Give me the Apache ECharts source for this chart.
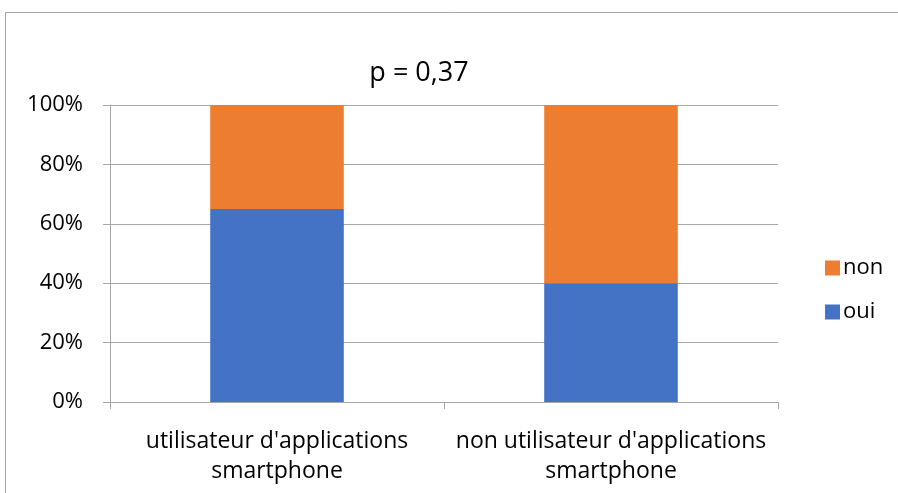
<!DOCTYPE html>
<html>
<head>
<meta charset="utf-8">
<script src="https://cdn.jsdelivr.net/npm/echarts@6/dist/echarts.min.js"></script>
<style>
html, body { margin: 0; padding: 0; background: #fff; }
#chart { width: 898px; height: 493px; }
</style>
</head>
<body>
<div id="chart"></div>
<script>
const categories = ["utilisateur d'applications\nsmartphone", "non utilisateur d'applications\nsmartphone"];
const ouiValues = [65, 40];
const nonValues = [35, 60];
const yTicks = [0, 20, 40, 60, 80, 100];

const font = '"Open Sans", "Liberation Sans", sans-serif';
const chart = echarts.init(document.getElementById('chart'));
chart.setOption({
	animation: false,
	title: {
		text: 'p = 0,37',
		left: 414,
		top: 55,
		textAlign: 'center',
		textStyle: { fontFamily: font, fontSize: 27, fontWeight: 'normal', color: '#000' }
	},
	graphic: [{
		type: 'rect',
		shape: { x: 5.5, y: 12.5, width: 1000, height: 1000 },
		style: { fill: 'none', stroke: '#a6a6a6', lineWidth: 1 },
		silent: true
	}],
	legend: {
		orient: 'vertical',
		left: 820,
		top: 252,
		itemGap: 22,
		itemWidth: 15,
		itemHeight: 15,
		icon: 'rect',
		data: ['non', 'oui'],
		textStyle: { fontFamily: font, fontSize: 22, color: '#000', padding: [0, 0, 0, -2] }
	},
	grid: { left: 110, right: 120, top: 105, bottom: 91 },
	xAxis: {
		type: 'category',
		data: categories,
		axisLine: { lineStyle: { color: '#a6a6a6' } },
		axisTick: { show: true, length: 7, lineStyle: { color: '#a6a6a6' } },
		axisLabel: { interval: 0, hideOverlap: false, fontFamily: font, fontSize: 23, color: '#000', margin: 24, lineHeight: 30 }
	},
	yAxis: {
		type: 'value',
		min: yTicks[0],
		max: yTicks[yTicks.length - 1],
		interval: 20,
		axisLine: { show: true, lineStyle: { color: '#a6a6a6' } },
		axisTick: { show: true, length: 7, lineStyle: { color: '#a6a6a6' } },
		splitLine: { lineStyle: { color: '#a6a6a6' } },
		axisLabel: { fontFamily: font, fontSize: 22, color: '#000', margin: 27, formatter: '{value}%' }
	},
	series: [
		{ name: 'oui', type: 'bar', stack: 'total', barWidth: '40%', data: ouiValues, itemStyle: { color: '#4472c4' } },
		{ name: 'non', type: 'bar', stack: 'total', barWidth: '40%', data: nonValues, itemStyle: { color: '#ed7d31' } }
	]
});
</script>
</body>
</html>
